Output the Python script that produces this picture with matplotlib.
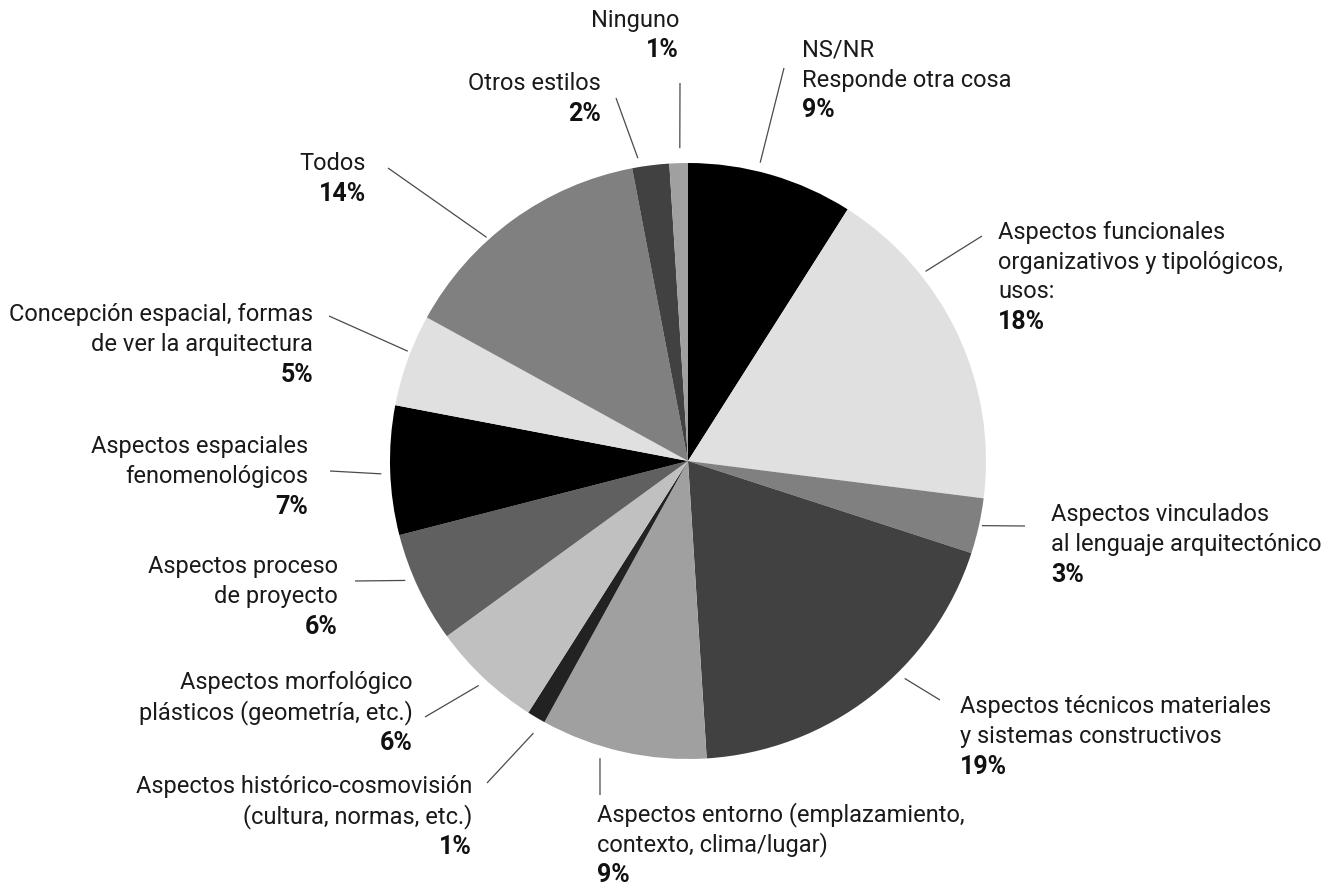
import matplotlib
matplotlib.use("Agg")
import matplotlib.pyplot as plt
import numpy as np

# ---- data ----
categories = [
    "NS/NR\nResponde otra cosa",
    "Aspectos funcionales\norganizativos y tipológicos,\nusos:",
    "Aspectos vinculados\nal lenguaje arquitectónico",
    "Aspectos técnicos materiales\ny sistemas constructivos",
    "Aspectos entorno (emplazamiento,\ncontexto, clima/lugar)",
    "Aspectos histórico-cosmovisión\n(cultura, normas, etc.)",
    "Aspectos morfológico\nplásticos (geometría, etc.)",
    "Aspectos proceso\nde proyecto",
    "Aspectos espaciales\nfenomenológicos",
    "Concepción espacial, formas\nde ver la arquitectura",
    "Todos",
    "Otros estilos",
    "Ninguno",
]
values = [9, 18, 3, 19, 9, 1, 6, 6, 7, 5, 14, 2, 1]
colors = ["#000000", "#e0e0e0", "#808080", "#414141", "#a0a0a0", "#222222",
          "#c0c0c0", "#606060", "#000000", "#e0e0e0", "#808080", "#414141", "#a0a0a0"]

# ---- layout (pixel coords, y measured from top) ----
W, H = 1342, 889
cx, cy, R = 688, 461, 298
# label anchor: (x, y of first line, ha)
label_pos = [
    (802, 50, "left"),
    (998, 232, "left"),
    (1051, 515, "left"),
    (960, 707, "left"),
    (597, 815, "left"),
    (472, 787, "right"),
    (413, 683, "right"),
    (338, 567, "right"),
    (308, 447, "right"),
    (313, 315, "right"),
    (366, 164, "right"),
    (601, 84, "right"),
    (679, 20, "right"),
]
# leader: (start angle deg, start radius factor, end x, end y)
leader = [
    (76.4, 1.03, 784, 68),
    (38.6, 1.02, 982, 236),
    (-12.4, 1.01, 1025, 526),
    (-45.1, 1.03, 940, 700),
    (253.5, 1.04, 600, 795),
    (240.4, 1.05, 487, 783),
    (227.0, 1.03, 425, 717),
    (202.9, 1.03, 355, 581),
    (182.4, 1.03, 330, 471),
    (158.6, 1.01, 329, 316),
    (132.0, 1.01, 388, 168),
    (99.4, 1.03, 616, 98),
    (91.5, 1.05, 680, 83),
]

plt.rcParams['font.family'] = ['Roboto', 'DejaVu Sans']
fig = plt.figure(figsize=(W / 100, H / 100), dpi=100)
ax = fig.add_axes([0, 0, 1, 1])

wedges, _ = ax.pie(values, colors=colors, startangle=90, counterclock=False,
                   center=(cx, H - cy), radius=R, frame=True,
                   wedgeprops=dict(linewidth=0))
ax.set_xlim(0, W)
ax.set_ylim(0, H)
ax.set_aspect("equal")
ax.axis("off")

fs = 17
fs_pct = 18
lh = 30
for cat, val, (lx, ly, ha), (ang, rf, ex, ey) in zip(categories, values, label_pos, leader):
    a = np.deg2rad(ang)
    sx = cx + R * rf * np.cos(a)
    sy = (H - cy) + R * rf * np.sin(a)
    ax.plot([sx, ex], [sy, H - ey], color="#4a4a4a", lw=0.9, solid_capstyle="butt")
    lines = cat.split("\n")
    for i, ln in enumerate(lines):
        ax.text(lx, H - (ly + i * lh), ln, ha=ha, va="center", fontsize=fs, color="#1a1a1a")
    ax.text(lx, H - (ly + len(lines) * lh), f"{val}%", ha=ha, va="center",
            fontsize=fs_pct, fontweight="bold", color="#111111")

fig.savefig("out.png", dpi=100)
